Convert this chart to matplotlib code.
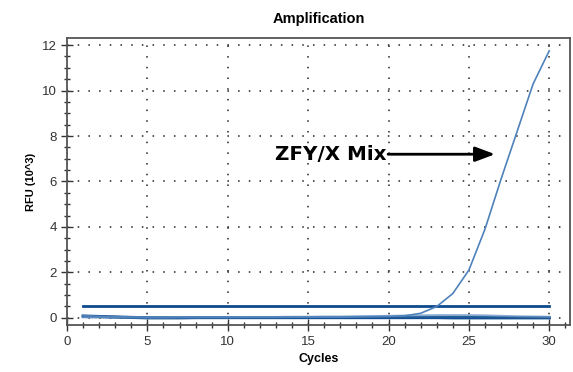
import numpy as np
import matplotlib
matplotlib.use("Agg")
import matplotlib.pyplot as plt
from matplotlib.ticker import MultipleLocator

# --- data (RFU in 10^3) ---
cycles = list(range(1, 31))
zfy_mix = [0.10, 0.07, 0.05, 0.03, 0.02, 0.02, 0.02, 0.02, 0.02, 0.02,
           0.02, 0.02, 0.02, 0.03, 0.03, 0.03, 0.03, 0.04, 0.05, 0.06,
           0.09, 0.20, 0.50, 1.07, 2.10, 3.90, 6.10, 8.20, 10.30, 11.75]
baseline_a = [0.08, 0.06, 0.04, 0.02, 0.00, 0.00, 0.00, 0.01, 0.01, 0.01,
              0.01, 0.01, 0.01, 0.01, 0.01, 0.01, 0.01, 0.01, 0.01, 0.01,
              0.01, 0.01, 0.01, 0.00, 0.00, 0.00, 0.00, 0.00, 0.00, 0.00]
baseline_b = [0.02, 0.02, 0.02, 0.02, 0.02, 0.02, 0.03, 0.03, 0.03, 0.03,
              0.04, 0.04, 0.04, 0.05, 0.05, 0.06, 0.06, 0.07, 0.08, 0.09,
              0.10, 0.11, 0.12, 0.12, 0.12, 0.11, 0.09, 0.07, 0.06, 0.05]
baseline_c = [0.05, 0.04, 0.03, 0.02, 0.01, 0.01, 0.01, 0.01, 0.02, 0.02,
              0.02, 0.02, 0.02, 0.02, 0.02, 0.02, 0.02, 0.03, 0.03, 0.03,
              0.03, 0.03, 0.03, 0.03, 0.03, 0.03, 0.02, 0.02, 0.02, 0.02]
threshold = 0.52

fig = plt.figure(figsize=(5.73, 3.72), dpi=100)
ax = fig.add_axes([0.117, 0.126, 0.878, 0.771])

ax.plot(cycles, [threshold] * len(cycles), color="#0d4a8c", lw=2.0, zorder=3)
ax.plot(cycles, baseline_a, color="#0d4a8c", lw=2.2, zorder=3)
ax.plot(cycles, baseline_c, color="#1f5a98", lw=1.8, zorder=3)
ax.plot(cycles, baseline_b, color="#6f98c6", lw=1.4, alpha=0.8, zorder=3)
ax.plot(cycles, zfy_mix, color="#4f82bb", lw=1.2, zorder=4)

ax.set_xlim(0, 31.3)
ax.set_ylim(-0.32, 12.3)
ax.xaxis.set_major_locator(MultipleLocator(5))
ax.xaxis.set_minor_locator(MultipleLocator(1))
ax.yaxis.set_major_locator(MultipleLocator(2))
ax.yaxis.set_minor_locator(MultipleLocator(0.5))
ax.tick_params(which="major", direction="inout", length=8, width=1, color="#333333")
ax.tick_params(which="minor", direction="inout", length=5, width=1, color="#333333")
ax.tick_params(labelsize=9.5, labelcolor="#333333")
for lab in ax.get_xticklabels() + ax.get_yticklabels():
    lab.set_family("Liberation Sans")

ax.grid(True, which="major", color="#222222", linestyle=(0, (1, 6)), lw=1.1)
for s in ax.spines.values():
    s.set_color("#555555")
    s.set_linewidth(1.3)

ax.set_title("Amplification", fontsize=10.5, fontweight="bold",
             family="Liberation Sans", pad=11)
ax.set_xlabel("Cycles", fontsize=9, fontweight="bold", family="Liberation Sans")
ax.set_ylabel("RFU (10^3)", fontsize=8, fontweight="bold", family="Liberation Sans")

ax.annotate("", xy=(26.8, 7.2), xytext=(19.8, 7.2),
            arrowprops=dict(arrowstyle="-|>,head_length=1.2,head_width=0.45",
                            color="black", lw=2))
ax.text(19.9, 7.2, "ZFY/X Mix", ha="right", va="center",
        fontsize=14.3, fontweight="bold", family="DejaVu Sans")

fig.savefig("out.png", dpi=100)
